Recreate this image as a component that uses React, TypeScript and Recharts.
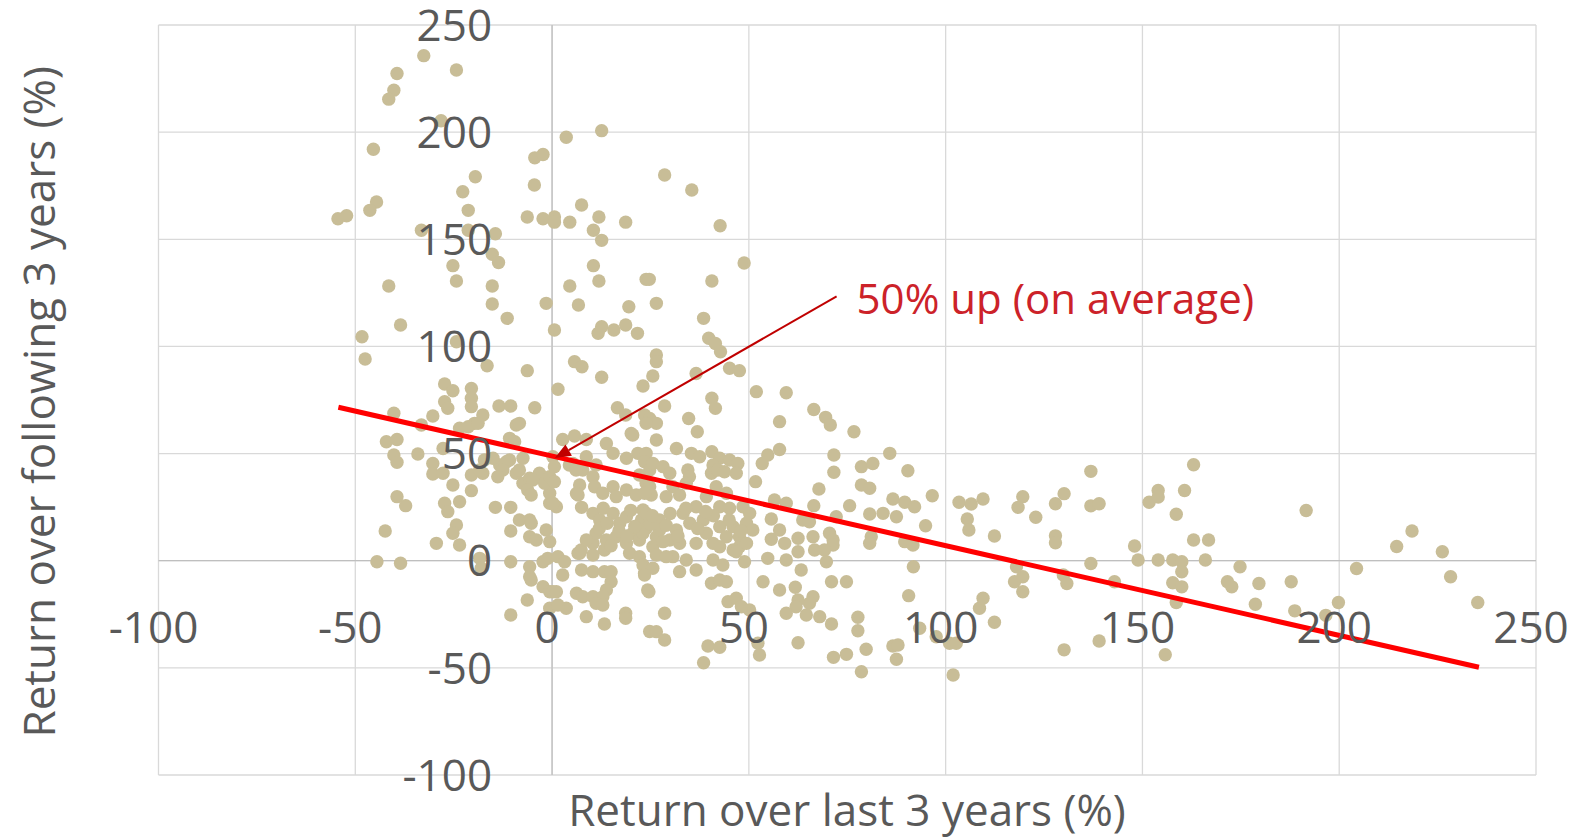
import React from "react";
import { ScatterChart, Scatter, XAxis, YAxis, CartesianGrid } from "recharts";

// chart geometry
const W = 1575;
const H = 839;
const MARGIN = { top: 25, right: 39, bottom: 34, left: 98.5 };
const X_AXIS_H = 30;
const Y_AXIS_W = 60;
const PLOT_LEFT = MARGIN.left + Y_AXIS_W;
const PLOT_W = W - PLOT_LEFT - MARGIN.right;
const PLOT_H = H - MARGIN.top - MARGIN.bottom - X_AXIS_H;

const X_DOMAIN: [number, number] = [-100, 250];
const Y_DOMAIN: [number, number] = [-100, 250];
const X_TICKS = [-100, -50, 0, 50, 100, 150, 200, 250];
const Y_TICKS = [-100, -50, 0, 50, 100, 150, 200, 250];

const X_TITLE = "Return over last 3 years (%)";
const Y_TITLE = "Return over following 3 years (%)";
const NOTE = "50% up (on average)";

// pixel position of the zero lines (where Excel puts the tick labels)
const ZERO_X = PLOT_LEFT + (PLOT_W * (0 - X_DOMAIN[0])) / (X_DOMAIN[1] - X_DOMAIN[0]);
const ZERO_Y = MARGIN.top + (PLOT_H * (Y_DOMAIN[1] - 0)) / (Y_DOMAIN[1] - Y_DOMAIN[0]);

const FONT = "'Open Sans', sans-serif";
const GREY = "#595959";
const DOT = "#c8bd97";

// [last 3y return, following 3y return]
const upperPts: [number, number][] = [
  [-32.6, 235.7], [-24.3, 229], [-39.4, 227.4], [-40.2, 219.6], [-41.5, 215.4], [-28.2, 205.3],
  [-45.4, 192], [3.6, 197.6], [12.6, 200.7], [-4.4, 188], [-2.3, 189.6], [-19.5, 179.2],
  [-4.5, 175.3], [-22.7, 172.2], [-44.6, 167.4], [-46.3, 163.5], [-54.4, 159.6], [-52.2, 161],
  [7.5, 166], [-21.3, 163.5], [-6.3, 160.4], [-2.3, 159.6], [0.6, 160.4], [0.6, 158], [4.5, 158],
  [11.9, 160.4], [10.5, 154.2], [12.6, 149.5], [18.7, 158], [-33.2, 154.2], [-21.3, 154.2],
  [-14.4, 152.6], [-15.2, 143], [-13.6, 139.2], [-25.2, 137.7], [10.5, 137.7], [-24.3, 130.5],
  [11.9, 130.5], [-41.5, 128.2], [-15.2, 128.2], [4.5, 128.2], [23.9, 131.3], [28.6, 180],
  [35.5, 173], [42.7, 156.3], [48.8, 138.9], [24.7, 131.3], [40.6, 130.5], [-15.2, 119.8],
  [-1.5, 120.1], [6.7, 119.3], [19.5, 118.5], [26.5, 120.1], [-11.4, 113.1], [38.5, 113.1],
  [-38.5, 110], [0.6, 107.7], [11.7, 106.1], [12.6, 109.2], [15.7, 107.7], [18.7, 110],
  [21.7, 106.1], [-48.3, 104.5], [-24.3, 102.2], [39.8, 103.8], [41.5, 101.4],
];

const midPts: [number, number][] = [
  [-47.5, 94.1], [-16.5, 91], [-6.3, 88.7], [5.7, 92.9], [7.6, 90.5], [12.6, 85.6], [1.5, 80],
  [23.1, 81.5], [-27.3, 82.5], [-25.2, 79.3], [-20.5, 80.4], [-20.5, 75.8], [-20.5, 71.9],
  [-27.3, 74.2], [-26.5, 71.1], [-13.5, 72.2], [-10.5, 72.2], [-4.4, 71.4], [16.6, 71.4],
  [-40.2, 68.8], [-30.3, 67.5], [-17.6, 68], [-19.7, 64.1], [-9.1, 63.3], [-8.3, 64.1],
  [-33.2, 63.3], [-23.5, 61.8], [-42.1, 55.5], [-39.4, 56.6], [-10.5, 56.3], [2.7, 56.6],
  [5.7, 58.2], [8.7, 56.6], [13.8, 54.7], [20.5, 58.7], [42.8, 97.5], [26.5, 96], [26.5, 92.9],
  [25.6, 86.2], [36.6, 87.4], [45.1, 89.8], [47.6, 88.7], [40.6, 75.8], [41.5, 71.1],
  [28.6, 72.2], [18.7, 68], [23.5, 68], [24.8, 66.4], [26.5, 64.1], [34.7, 66.4], [36.9, 60.2],
  [26.5, 56.3], [51.9, 78.9], [59.5, 78.4], [57.8, 64.9], [66.5, 70.6], [69.5, 66.9],
  [70.7, 63.3], [76.7, 60.2], [57.8, 51.9], [-10.8, 57.1], [-9.5, 55.5], [20.1, 59.4],
  [23.9, 64.1], [-21.3, 62.5], [-18.8, 64.1], [31.6, 52.4], [35.4, 50.1], [40.6, 50.9],
  [15.5, 50.1], [21.8, 50.1], [23.9, 50.1], [85.8, 50.1], [-27.7, 52.4],
];

const clusterLeftPts: [number, number][] = [
  [-40.2, 49.3], [-39.4, 45.9], [-34.1, 49.8], [-30.3, 45.4], [-30.3, 40.5], [-27.7, 40.8],
  [-20.5, 40], [-17.6, 40.8], [-13.3, 44.7], [-10.8, 47], [-9.1, 40.8], [-7.4, 36.1],
  [-5.7, 38.5], [-2.7, 39.2], [-0.6, 36.9], [-7.4, 47.8], [-25.2, 35.3], [-20.5, 32.7],
  [-39.4, 29.9], [-37.2, 25.7], [-27.3, 26.8], [-26.5, 22.9], [-23.5, 27.5], [-14.4, 24.9],
  [-10.5, 24.9], [-0.6, 26.8], [-8.3, 19], [-5.7, 19], [-24.3, 16.7], [-25.2, 12.8],
  [-42.4, 13.9], [-10.5, 13.9], [-5.7, 11.2], [-1.5, 14.3], [-0.6, 8.9], [-29.4, 8.1],
  [-23.5, 7.3], [-44.5, -0.5], [-38.5, -1.2], [-10.5, -0.5], [-18.4, 1.1], [-18, -3.5],
  [-5.7, -2.8], [-5.7, -7.5], [-2.3, -0.5], [-5.3, 17.5], [-2.3, -12.1], [-6.3, -18.3],
  [-10.5, -25.3], [-0.6, -22.2], [-5.3, -9], [-0.6, -14.5], [-1.1, 1.1], [-4, 9.7], [-15, 47.8],
  [-17.2, 47], [-18.4, 42.3], [-11.6, 46.2], [-12.5, 42.3], [-13.8, 39.2], [-3.2, 40.8],
  [-4.9, 37.7], [-6.2, 33], [-5.3, 30.7], [-8.3, 42.3], [-0.6, 31.5], [-1.9, 36.1], [-0.6, 39.2],
];

const clusterRightPts: [number, number][] = [
  [0.2, 48.5], [5.3, 45.4], [7.8, 42.3], [7, 35.3], [6.2, 31.4], [1.1, 25.2], [7.5, 24.9],
  [2.7, -6.7], [0.2, -14.5], [3.6, -22.2], [7.5, -4.3], [7, 3.5], [10.4, 2.7], [13.3, 5],
  [10.4, -5.1], [13.3, -5.1], [15, -5.1], [15, -9.8], [13.8, -13.7], [6.2, -15.2], [7.8, -16.8],
  [10.4, -16.8], [12.9, -16.8], [11.2, -19.9], [12.9, -20.7], [8.7, -26.1], [13.3, -29.5],
  [18.7, -24.5], [18.7, -26.9], [19.7, 3.5], [22.2, 1.9], [23.5, -5.9], [24.3, -13.7],
  [1.1, -14.5], [1.5, -20.7], [1.5, 1.9], [3.2, -0.5], [6.6, 3.5], [7.4, 5], [24.8, -33],
  [10.4, 8.1], [18.9, 47.8], [23.5, 46.2], [24.8, 42.3], [8.7, 48.5], [11.2, 44.7], [4.4, 44.7],
  [6.1, 42.3], [0.6, 43.9], [0.6, 36.9], [0.2, 26.8], [6.6, 30.7], [10.4, 39.2], [10.8, 34.5],
  [12.9, 31.5], [15.5, 34.5], [16.3, 29.9], [18.9, 33], [21.4, 30.7], [23.9, 36.1], [25.2, 30.7],
  [10.4, 22.1], [12.1, 19], [11.2, 12.8], [13.8, 9.7], [8.7, 9.7], [15.5, 22.1], [17.2, 17.5],
  [18.9, 20.5], [20.5, 12.8], [22.7, 19], [23.9, 15.1], [26.5, 11.2], [16.3, 11.2], [18.9, 8.1],
  [22.2, 9.7], [25.6, 6.5], [37.5, 48.5], [42.6, 47.8], [45.1, 47], [47.2, 45.4], [46.8, 40.8],
  [40.9, 44.7], [40.5, 40.8], [42.1, 42.3], [43.8, 41.5], [34.5, 42.3], [34.9, 39.2],
  [25.6, 45.4], [28.2, 43.9], [29.9, 40.8], [22.2, 40], [24.8, 34.5], [23.5, 31.5], [30.7, 34.5],
  [29, 29.9], [32.4, 30.7], [34.1, 36.1], [41.7, 34.5], [44.3, 31.5], [39.2, 29.9], [36.6, 25.2],
  [42.6, 25.2], [45.1, 24.5], [48.5, 25.2], [50.2, 22.1], [49.4, 17.5], [23.1, 23.7],
  [23.1, 12.8], [27.3, 19], [27.3, 14.3], [29.9, 9.7], [31.6, 14.3], [33.3, 22.1], [35, 17.5],
  [38.4, 19], [39.2, 12.8], [42.6, 15.9], [44.3, 11.2], [46, 15.9], [47.6, 11.2], [51, 14.3],
  [32.4, 8.1], [36.6, 8.1], [40.9, 8.1], [47.6, 6.5], [28.2, 8.9], [42.6, 6.5], [46, 5],
  [49.4, 8.1], [26.5, 2.7], [30.7, 1.9], [34.1, 0.3], [36.6, -4.3], [40.9, 0.3], [43.4, -2],
  [46.8, 4.2], [23.1, -2], [25.6, -3.5], [32.4, -5.1], [48.9, -0.5], [40.5, -10.5], [42.6, -9],
  [44.3, -9.8], [44.7, -19.1], [46.8, -17.5], [48.1, -21.5], [50.2, -23], [28.6, -24.5],
  [26.5, -33.1], [28.6, -37], [39.6, -39.8], [42.6, -40.4], [38.5, -47.6], [52.3, -38.5],
  [52.7, -44], [23.5, -6.7], [29, 1.9], [24.6, -14.5],
  // densest part of the cloud
  [12, 15], [14, 17.5], [17, 14], [19, 11.5], [21, 16], [24, 22], [20, 23.5], [13, 24.5],
  [25, 17], [15, 7], [25.5, 21], [29, 16.5], [32, 11.5], [37, 15], [41, 21], [45, 19],
  [48, 14], [34, 24.5], [39, 23], [30, 22],
];

const midRightPts: [number, number][] = [
  [54.8, 49.3], [53.4, 45.4], [51.7, 36.9], [71.6, 49.3], [71.6, 41.3], [78.6, 43.9],
  [81.5, 45.4], [90.4, 42], [78.6, 35.3], [80.7, 33.8], [67.8, 33.5], [96.6, 30.3], [86.6, 28.8],
  [89.6, 27.3], [75.6, 25.7], [80.7, 21.8], [84.1, 22.1], [87.5, 20.5], [94.9, 16.3],
  [56.5, 28.3], [59.5, 26.8], [66.5, 25.7], [72.2, 20.5], [55.7, 19.5], [57.8, 14.3],
  [62.5, 10.5], [63.7, 19], [70.5, 12.8], [71.4, 9.7], [81.1, 11.2], [55.7, 10], [92.1, 25.2],
  [65.4, 18.2], [66.3, 11.2], [71.4, 7.3], [80.7, 8.1], [89.6, 8.9], [91.7, 7.3], [59.1, 8.1],
  [62.5, 4.2], [66.7, 5], [69.2, 5], [69.7, -0.5], [54.8, 1.1], [59.5, 0.3], [63.3, -4.3],
  [53.6, -9.8], [57.8, -13.7], [61.8, -12.4], [66.3, -16.8], [65.4, -19.9], [62.5, -18.3],
  [62, -21.5], [59.5, -24.5], [64.6, -25.3], [68, -26.1], [71, -9.8], [74.8, -9.8], [71, -29.5],
  [77.7, -26.4], [77.7, -32.7], [79.8, -41.3], [71.5, -45.1], [74.8, -43.7], [78.6, -51.8],
  [86.6, -39.8], [87.9, -39.3], [87.5, -46], [62.5, -38.3], [90.6, -16.3], [91.8, -2.8],
  [93.4, -31.5], [97.6, -35.5], [101, -38.5], [102.7, -38.5], [101.9, -53.3],
];

const rightPts: [number, number][] = [
  [103.4, 27.3], [106.5, 26.5], [109.5, 28.8], [119.6, 29.9], [118.4, 24.9], [122.9, 20.3],
  [105.5, 19.5], [105.9, 14.3], [112.4, 11.5], [108.6, -22.2], [109.5, -17.5], [112.4, -28.7],
  [117.5, -9.8], [119.6, -7.5], [119.6, -14.5], [118, -2.8], [127.9, 26.6], [130.1, 31.3],
  [127.9, 11.6], [127.9, 8.4], [136.9, 41.7], [136.9, 25.6], [139, 26.6], [136.9, -1.3],
  [129.9, -6.7], [130.8, -10.6], [142.9, -9.8], [130.1, -41.6], [139, -37.5], [148, 6.9],
  [148.9, 0.3], [151.7, 27.3], [154, 32.8], [154, 29.7], [158.6, 21.7], [160.7, 32.8],
  [163, 44.8], [163, 9.7], [166.8, 9.7], [154, 0.3], [157.7, 0.3], [160, -0.5], [160, -5.2],
  [166, 0.3], [157.7, -10.3], [160, -12.2], [158.6, -19.5], [155.8, -43.9], [171.6, -9.8],
  [172.7, -12.2], [174.8, -2.8], [179.6, -10.6], [178.7, -20.3], [187.8, -9.8], [188.7, -23.4],
  [196.6, -25.5], [191.6, 23.4], [199.8, -19.5], [204.4, -3.6], [214.6, 6.6], [218.5, 13.9],
  [226.2, 4.2], [228.3, -7.5], [235.2, -19.5],
];

// trend line and the callout arrow
const trendLine = [
  { x: -54.3, y: 71.6 },
  { x: 235.5, y: -49.7 },
];
const arrowPts = [
  { x: 72.3, y: 123.4 },
  { x: 0.7, y: 47.9 },
];

const points = [
  ...upperPts,
  ...midPts,
  ...clusterLeftPts,
  ...clusterRightPts,
  ...midRightPts,
  ...rightPts,
].map(([x, y]) => ({ x, y }));

const XTick = (props: any) => {
  const { x, payload } = props;
  return (
    <text x={x - 5} y={ZERO_Y + 82.5} textAnchor="middle" fontSize={44} fontFamily={FONT} fill={GREY}>
      {payload.value}
    </text>
  );
};

const YTick = (props: any) => {
  const { y, payload } = props;
  return (
    <text x={ZERO_X - 60} y={y + 15.7} textAnchor="end" fontSize={44} fontFamily={FONT} fill={GREY}>
      {payload.value}
    </text>
  );
};

const Dot = (props: any) => <circle cx={props.cx} cy={props.cy} r={6.7} fill={DOT} />;
const NoDot = () => <g />;

const Arrow = (props: any) => {
  const [a, b] = props.points;
  const dx = b.x - a.x;
  const dy = b.y - a.y;
  const len = Math.hypot(dx, dy);
  const ux = dx / len;
  const uy = dy / len;
  const headLen = 16;
  const half = 6.5;
  const bx = b.x - ux * headLen;
  const by = b.y - uy * headLen;
  const head = `${b.x},${b.y} ${bx - uy * half},${by + ux * half} ${bx + uy * half},${by - ux * half}`;
  return (
    <g>
      <line x1={a.x} y1={a.y} x2={bx} y2={by} stroke="#c00000" strokeWidth={2} />
      <polygon points={head} fill="#c00000" />
      <text x={a.x + 20} y={a.y + 18} fontSize={42} fontFamily={FONT} fill="#cc2229">
        {NOTE}
      </text>
    </g>
  );
};

export default function App() {
  return (
    <div style={{ position: "absolute", left: 0, top: 0, width: W, height: H, background: "#fff" }}>
      <ScatterChart width={W} height={H} margin={MARGIN}>
        <CartesianGrid stroke="#d9d9d9" strokeWidth={1.3} />
        <CartesianGrid horizontalValues={[0]} verticalValues={[0]} stroke="#bfbfbf" strokeWidth={1.3} />
        <XAxis
          type="number"
          dataKey="x"
          domain={X_DOMAIN}
          ticks={X_TICKS}
          interval={0}
          height={X_AXIS_H}
          axisLine={false}
          tickLine={false}
          tick={<XTick />}
          allowDataOverflow
          label={{
            content: () => (
              <text x={847} y={825.5} textAnchor="middle" fontSize={44} fontFamily={FONT} fill={GREY}>
                {X_TITLE}
              </text>
            ),
          }}
        />
        <YAxis
          type="number"
          dataKey="y"
          domain={Y_DOMAIN}
          ticks={Y_TICKS}
          interval={0}
          width={Y_AXIS_W}
          axisLine={false}
          tickLine={false}
          tick={<YTick />}
          allowDataOverflow
          label={{
            content: () => (
              <text
                x={55.5}
                y={401.8}
                transform="rotate(-90, 55.5, 401.8)"
                textAnchor="middle"
                fontSize={44}
                fontFamily={FONT}
                fill={GREY}
              >
                {Y_TITLE}
              </text>
            ),
          }}
        />
        <Scatter data={points} shape={<Dot />} isAnimationActive={false} />
        <Scatter
          data={trendLine}
          shape={<NoDot />}
          line={{ stroke: "#ff0000", strokeWidth: 5 }}
          isAnimationActive={false}
        />
        <Scatter data={arrowPts} shape={<NoDot />} line={Arrow} isAnimationActive={false} />
      </ScatterChart>
    </div>
  );
}
